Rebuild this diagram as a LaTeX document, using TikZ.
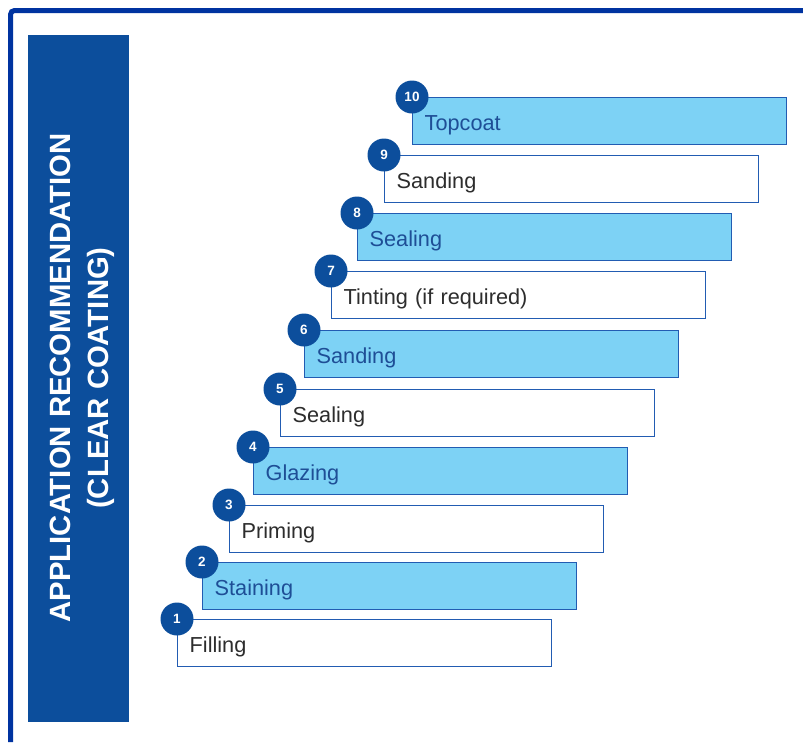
\documentclass[tikz,border=0pt]{standalone}
\usepackage{fontspec}
\setmainfont{Liberation Sans}
\definecolor{FrameBlue}{RGB}{0,51,160}
\definecolor{PanelBlue}{RGB}{12,78,156}
\definecolor{EdgeBlue}{RGB}{34,92,178}
\definecolor{LightBlue}{RGB}{125,210,245}
\definecolor{TextBlue}{RGB}{30,78,150}
\definecolor{TextGray}{RGB}{45,45,45}
\usepackage{tikz}
\usetikzlibrary{positioning, calc}

\tikzset{
  stepbox/.style={draw=EdgeBlue, line width=1.4pt, rectangle, anchor=north west,
    minimum width=374pt, minimum height=47pt, text width=350pt, align=left,
    text height=18pt, text depth=0pt,
    inner xsep=12pt, font=\fontsize{21.7}{24}\selectfont},
  stepplain/.style={stepbox, fill=white, text=TextGray},
  steplit/.style={stepbox, fill=LightBlue, text=TextBlue},
  badge/.style={circle, fill=PanelBlue, text=white, minimum size=33pt, inner sep=0pt,
    font=\bfseries\fontsize{13.5}{13.5}\selectfont}
}

\begin{document}
\begin{tikzpicture}[x=1pt, y=-1pt]
          \useasboundingbox (0,0) rectangle (803,742);
          \draw[line width=5pt, FrameBlue, rounded corners=4pt] (10.5,742) -- (10.5,10.5) -- (803,10.5);
          \fill[PanelBlue] (28,35) rectangle (129,722);
          \node[rotate=90, text=white, align=center, font=\bfseries\fontsize{29.3}{38}\selectfont] (title) at (82,378)
            {APPLICATION RECOMMENDATION\\(CLEAR COATING)};
          \foreach \i/\x/\y/\txt/\kind in {1/177/619/Filling/stepplain, 2/202/562/Staining/steplit,
              3/229/505/Priming/stepplain, 4/253/447/Glazing/steplit, 5/280/389/Sealing/stepplain,
              6/304/330/Sanding/steplit, 7/331/271/Tinting (if required)/stepplain,
              8/357/213/Sealing/steplit, 9/384/155/Sanding/stepplain, 10/412/97/Topcoat/steplit}
          {
            \node[\kind] (s\i) at (\x,\y) {\txt};
            \node[badge] (b\i) at (s\i.north west) {\i};
          }
        \end{tikzpicture}
\end{document}
